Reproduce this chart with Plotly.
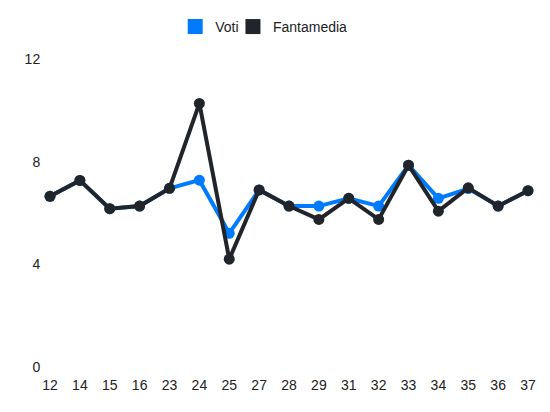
import plotly.graph_objects as go

giornate = ["12", "14", "15", "16", "23", "24", "25", "27", "28", "29",
            "31", "32", "33", "34", "35", "36", "37"]
voti = [6.65, 7.27, 6.17, 6.27, 6.96, 7.28, 5.21, 6.9, 6.27, 6.27,
        6.57, 6.27, 7.86, 6.57, 6.95, 6.27, 6.87]
fantamedia = [6.65, 7.27, 6.17, 6.27, 6.96, 10.27, 4.2, 6.9, 6.27, 5.75,
              6.57, 5.75, 7.86, 6.07, 6.98, 6.27, 6.87]

BLUE = "#007bff"
DARK = "#212529"

fig = go.Figure()

# linee vere (legenda nascosta, sostituita da quadrati)
fig.add_trace(go.Scatter(x=giornate, y=voti, mode="lines+markers",
                         line=dict(color=BLUE, width=4),
                         marker=dict(color=BLUE, size=11),
                         cliponaxis=False, showlegend=False, name="Voti"))
fig.add_trace(go.Scatter(x=giornate, y=fantamedia, mode="lines+markers",
                         line=dict(color=DARK, width=4),
                         marker=dict(color=DARK, size=11),
                         cliponaxis=False, showlegend=False, name="Fantamedia"))

# voci di legenda quadrate, ognuna nella sua legenda per avvicinarle
for nome, col, leg in [("Voti", BLUE, "legend"), ("Fantamedia", DARK, "legend2")]:
    fig.add_trace(go.Scatter(x=[None], y=[None], mode="markers", name=nome,
                             legend=leg,
                             marker=dict(color=col, size=15, symbol="square")))

legenda = dict(orientation="h", xref="container", xanchor="left",
               yref="container", y=0.954, yanchor="middle",
               bgcolor="rgba(0,0,0,0)",
               font=dict(size=14), itemwidth=30)

# la pagina ha 8px di margine: si compensa nei margini
fig.update_layout(
    width=550, height=412,
    margin=dict(l=42, r=30, t=51, b=53, autoexpand=False),
    paper_bgcolor="white", plot_bgcolor="white",
    font=dict(family="Liberation Sans, Arial", size=14, color="#222"),
    showlegend=True,
    legend=dict(legenda, x=0.304),
    legend2=dict(legenda, x=0.409),
)
fig.update_xaxes(type="category", range=[0, 16], showgrid=False, zeroline=False,
                 showline=False, ticks="", ticklabelstandoff=8)
fig.update_yaxes(range=[0, 12], tickvals=[0, 4, 8, 12], showgrid=False,
                 zeroline=False, showline=False, ticks="outside", ticklen=6,
                 tickcolor="white")

fig.write_html("out.html")
